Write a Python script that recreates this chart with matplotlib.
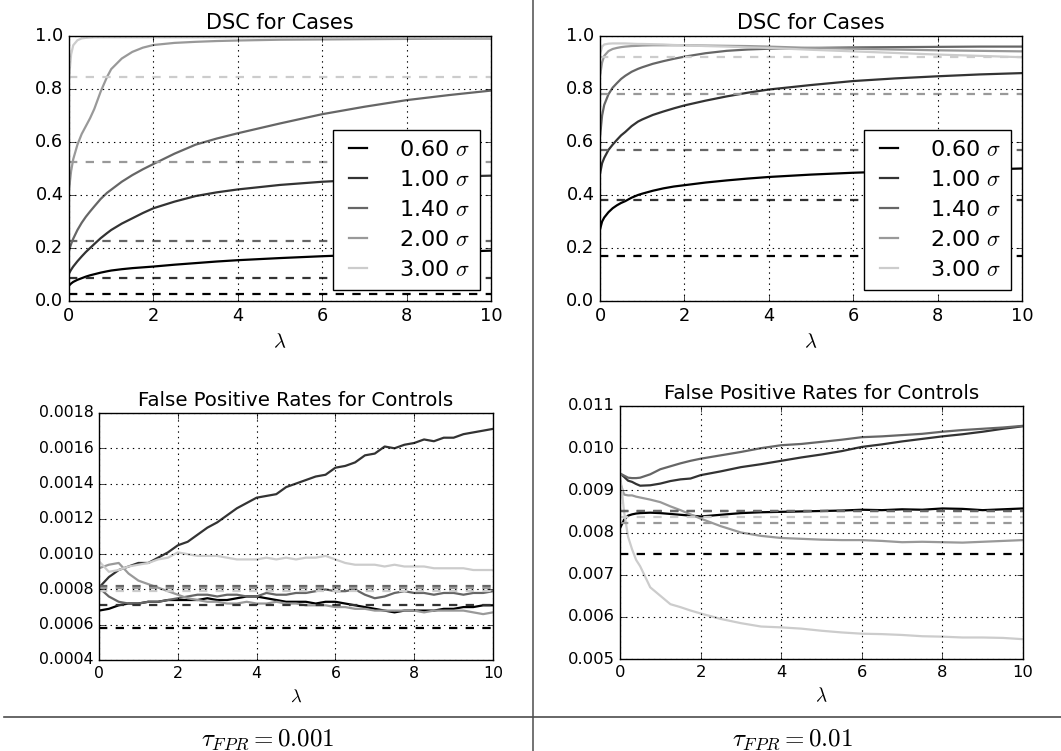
import matplotlib
matplotlib.use('Agg')
import matplotlib.pyplot as plt
from matplotlib.lines import Line2D
from matplotlib.ticker import FormatStrFormatter, MultipleLocator

plt.style.use('classic')

# --- datos ---
sigmas = [0.60, 1.00, 1.40, 2.00, 3.00]
grays = ['0.0', '0.2', '0.4', '0.6', '0.8']

lam_dsc = [0, 0.05, 0.1, 0.2, 0.3, 0.4, 0.5, 0.6, 0.75, 0.9, 1, 1.25, 1.5, 1.75, 2, 2.5, 3, 3.5, 4, 5, 6, 7, 8, 9, 10]

# tau_FPR = 0.001, DSC
dsc_001_060 = [0.058, 0.066, 0.072, 0.080, 0.086, 0.092, 0.097, 0.101, 0.107, 0.112, 0.115, 0.120, 0.124,
               0.127, 0.130, 0.137, 0.143, 0.149, 0.154, 0.162, 0.169, 0.175, 0.180, 0.185, 0.190]
dsc_001_100 = [0.104, 0.118, 0.130, 0.150, 0.168, 0.185, 0.200, 0.215, 0.237, 0.256, 0.268, 0.292, 0.312,
               0.332, 0.350, 0.375, 0.396, 0.410, 0.421, 0.438, 0.450, 0.458, 0.464, 0.469, 0.473]
dsc_001_140 = [0.190, 0.215, 0.235, 0.268, 0.295, 0.318, 0.338, 0.357, 0.385, 0.408, 0.420, 0.450, 0.475,
               0.497, 0.517, 0.556, 0.590, 0.613, 0.633, 0.670, 0.705, 0.733, 0.758, 0.777, 0.794]
dsc_001_200 = [0.420, 0.490, 0.535, 0.590, 0.630, 0.660, 0.690, 0.725, 0.790, 0.845, 0.875, 0.915, 0.940,
               0.956, 0.966, 0.974, 0.978, 0.981, 0.983, 0.986, 0.987, 0.988, 0.989, 0.990, 0.990]
dsc_001_300 = [0.840, 0.930, 0.965, 0.984, 0.991, 0.993, 0.994, 0.995, 0.995, 0.995, 0.995, 0.995, 0.995,
               0.995, 0.995, 0.995, 0.995, 0.995, 0.995, 0.995, 0.995, 0.995, 0.995, 0.995, 0.995]
dsc_001_base = [0.025, 0.088, 0.225, 0.525, 0.845]

# tau_FPR = 0.01, DSC
dsc_01_060 = [0.270, 0.300, 0.315, 0.335, 0.350, 0.361, 0.370, 0.377, 0.390, 0.400, 0.405, 0.416, 0.425,
              0.432, 0.437, 0.447, 0.455, 0.462, 0.468, 0.477, 0.484, 0.489, 0.493, 0.496, 0.500]
dsc_01_100 = [0.480, 0.520, 0.540, 0.570, 0.590, 0.608, 0.625, 0.638, 0.660, 0.677, 0.685, 0.702, 0.715,
              0.727, 0.738, 0.756, 0.772, 0.786, 0.798, 0.815, 0.830, 0.840, 0.848, 0.855, 0.860]
dsc_01_140 = [0.620, 0.700, 0.740, 0.780, 0.805, 0.822, 0.838, 0.850, 0.865, 0.876, 0.882, 0.895, 0.905,
              0.914, 0.922, 0.935, 0.944, 0.949, 0.952, 0.955, 0.957, 0.958, 0.959, 0.960, 0.960]
dsc_01_200 = [0.850, 0.900, 0.925, 0.943, 0.951, 0.955, 0.958, 0.960, 0.962, 0.963, 0.964, 0.965, 0.965,
              0.965, 0.965, 0.964, 0.963, 0.962, 0.960, 0.955, 0.952, 0.949, 0.946, 0.944, 0.942]
dsc_01_300 = [0.930, 0.960, 0.968, 0.971, 0.972, 0.972, 0.972, 0.972, 0.971, 0.970, 0.970, 0.969, 0.968,
              0.966, 0.965, 0.962, 0.960, 0.957, 0.955, 0.948, 0.942, 0.936, 0.930, 0.925, 0.920]
dsc_01_base = [0.170, 0.380, 0.570, 0.780, 0.920]

# tau_FPR = 0.001, FPR controles
lam_fpr1 = [0, 0.25, 0.5, 0.75, 1, 1.25, 1.5, 1.75, 2, 2.25, 2.5, 2.75, 3, 3.25, 3.5, 3.75, 4, 4.25, 4.5, 4.75,
            5, 5.25, 5.5, 5.75, 6, 6.25, 6.5, 6.75, 7, 7.25, 7.5, 7.75, 8, 8.25, 8.5, 8.75, 9, 9.25, 9.5, 9.75, 10]
fpr_001_060 = [0.00068, 0.00069, 0.00071, 0.00072, 0.00072, 0.00073, 0.00073, 0.00074, 0.00074, 0.00074, 0.00074,
               0.00075, 0.00074, 0.00074, 0.00075, 0.00076, 0.00076, 0.00075, 0.00074, 0.00073, 0.00073, 0.00073,
               0.00072, 0.00073, 0.00073, 0.00072, 0.00071, 0.00070, 0.00069, 0.00068, 0.00067, 0.00068, 0.00068,
               0.00068, 0.00068, 0.00069, 0.00069, 0.00070, 0.00070, 0.00071, 0.00071]
fpr_001_100 = [0.00081, 0.00087, 0.00091, 0.00093, 0.00095, 0.00095, 0.00098, 0.00101, 0.00105, 0.00107, 0.00111,
               0.00115, 0.00118, 0.00122, 0.00126, 0.00129, 0.00132, 0.00133, 0.00134, 0.00138, 0.00140, 0.00142,
               0.00144, 0.00145, 0.00149, 0.00150, 0.00152, 0.00156, 0.00157, 0.00161, 0.00160, 0.00162, 0.00163,
               0.00165, 0.00164, 0.00166, 0.00166, 0.00168, 0.00169, 0.00170, 0.00171]
fpr_001_140 = [0.00081, 0.00076, 0.00073, 0.00072, 0.00072, 0.00073, 0.00073, 0.00074, 0.00075, 0.00076, 0.00077,
               0.00077, 0.00076, 0.00077, 0.00077, 0.00076, 0.00076, 0.00078, 0.00077, 0.00077, 0.00078, 0.00078,
               0.00079, 0.00080, 0.00079, 0.00079, 0.00080, 0.00077, 0.00075, 0.00076, 0.00078, 0.00079, 0.00078,
               0.00078, 0.00077, 0.00078, 0.00078, 0.00077, 0.00078, 0.00078, 0.00079]
fpr_001_200 = [0.00092, 0.00094, 0.00095, 0.00089, 0.00085, 0.00083, 0.00081, 0.00079, 0.00077, 0.00075, 0.00074,
               0.00073, 0.00073, 0.00072, 0.00072, 0.00073, 0.00072, 0.00072, 0.00073, 0.00072, 0.00072, 0.00071,
               0.00071, 0.00071, 0.00070, 0.00070, 0.00069, 0.00069, 0.00068, 0.00068, 0.00068, 0.00068, 0.00068,
               0.00067, 0.00068, 0.00068, 0.00068, 0.00068, 0.00067, 0.00066, 0.00067]
fpr_001_300 = [0.00096, 0.00090, 0.00091, 0.00093, 0.00094, 0.00095, 0.00097, 0.00098, 0.00101, 0.00100, 0.00099,
               0.00099, 0.00099, 0.00098, 0.00097, 0.00097, 0.00097, 0.00098, 0.00097, 0.00098, 0.00097, 0.00098,
               0.00098, 0.00099, 0.00097, 0.00095, 0.00094, 0.00094, 0.00094, 0.00093, 0.00094, 0.00093, 0.00093,
               0.00093, 0.00092, 0.00092, 0.00092, 0.00092, 0.00091, 0.00091, 0.00091]
fpr_001_base = [0.00058, 0.00071, 0.00082, 0.00081, 0.00079]

# tau_FPR = 0.01, FPR controles
lam_fpr2 = [0, 0.1, 0.2, 0.3, 0.4, 0.5, 0.75, 1, 1.25, 1.5, 1.75, 2, 2.5, 3, 3.5, 4, 4.5, 5, 5.5, 6, 6.5,
            7, 7.5, 8, 8.5, 9, 9.5, 10]
fpr_01_060 = [0.00810, 0.00830, 0.00840, 0.00843, 0.00845, 0.00846, 0.00847, 0.00846, 0.00844, 0.00842, 0.00840,
              0.00838, 0.00842, 0.00846, 0.00848, 0.00849, 0.00850, 0.00851, 0.00852, 0.00854, 0.00853, 0.00855,
              0.00854, 0.00857, 0.00856, 0.00853, 0.00855, 0.00857]
fpr_01_100 = [0.00940, 0.00932, 0.00923, 0.00920, 0.00915, 0.00911, 0.00912, 0.00916, 0.00922, 0.00926, 0.00928,
              0.00936, 0.00945, 0.00955, 0.00962, 0.00970, 0.00978, 0.00985, 0.00993, 0.01003, 0.01009, 0.01016,
              0.01022, 0.01028, 0.01033, 0.01039, 0.01046, 0.01052]
fpr_01_140 = [0.00940, 0.00935, 0.00930, 0.00929, 0.00929, 0.00930, 0.00938, 0.00950, 0.00957, 0.00964, 0.00970,
              0.00975, 0.00983, 0.00991, 0.01000, 0.01007, 0.01010, 0.01015, 0.01020, 0.01026, 0.01028, 0.01031,
              0.01034, 0.01039, 0.01043, 0.01046, 0.01049, 0.01053]
fpr_01_200 = [0.00920, 0.00890, 0.00888, 0.00888, 0.00885, 0.00883, 0.00878, 0.00872, 0.00862, 0.00853, 0.00843,
              0.00833, 0.00815, 0.00800, 0.00792, 0.00787, 0.00785, 0.00783, 0.00782, 0.00782, 0.00780, 0.00777,
              0.00778, 0.00777, 0.00776, 0.00778, 0.00780, 0.00782]
fpr_01_300 = [0.00940, 0.00850, 0.00790, 0.00760, 0.00735, 0.00720, 0.00670, 0.00650, 0.00630, 0.00623, 0.00615,
              0.00608, 0.00595, 0.00585, 0.00577, 0.00575, 0.00572, 0.00567, 0.00563, 0.00560, 0.00559, 0.00557,
              0.00554, 0.00553, 0.00551, 0.00551, 0.00550, 0.00547]
fpr_01_base = [0.00749, 0.00850, 0.00850, 0.00822, 0.00836]

W, H = 1061, 751
fig = plt.figure(figsize=(W / 100, H / 100), dpi=100, facecolor='white')


def px_axes(x0, y0, x1, y1):
    # posiciones en pixeles (desde arriba a la izquierda)
    return fig.add_axes([x0 / W, (H - y1) / H, (x1 - x0) / W, (y1 - y0) / H])


def draw_panel(ax, lam, series, base, title, tick_fs, title_fs, legend=False):
    for s, g, ys in zip(sigmas, grays, series):
        ax.plot(lam, ys, color=g, lw=1.6, label='%5.2f $\\sigma$' % s)
    for g, b in zip(grays, base):
        ax.axhline(b, color=g, lw=1.6, ls='--', dashes=(6, 6))
    ax.set_xlim(0, 10)
    ax.xaxis.set_major_locator(MultipleLocator(2))
    ax.grid(True, color='k', ls=':', lw=0.8)
    ax.tick_params(labelsize=tick_fs)
    ax.set_title(title, fontsize=title_fs)
    ax.set_xlabel(r'$\lambda$', fontsize=tick_fs + 2)
    if legend:
        ax.legend(loc='lower right', fontsize=16, handlelength=1.4,
                  labelspacing=0.45, borderpad=0.45, fancybox=False)


ax1 = px_axes(69, 36, 491, 301)
draw_panel(ax1, lam_dsc, [dsc_001_060, dsc_001_100, dsc_001_140, dsc_001_200, dsc_001_300],
           dsc_001_base, 'DSC for Cases', 12.8, 15, legend=True)
ax1.set_ylim(0, 1)
ax1.yaxis.set_major_formatter(FormatStrFormatter('%.1f'))

ax2 = px_axes(600, 36, 1022, 301)
draw_panel(ax2, lam_dsc, [dsc_01_060, dsc_01_100, dsc_01_140, dsc_01_200, dsc_01_300],
           dsc_01_base, 'DSC for Cases', 12.8, 15, legend=True)
ax2.set_ylim(0, 1)
ax2.yaxis.set_major_formatter(FormatStrFormatter('%.1f'))

ax3 = px_axes(99, 413, 493, 660)
draw_panel(ax3, lam_fpr1, [fpr_001_060, fpr_001_100, fpr_001_140, fpr_001_200, fpr_001_300],
           fpr_001_base, 'False Positive Rates for Controls', 11.3, 14.2)
ax3.set_ylim(0.0004, 0.0018)
ax3.yaxis.set_major_locator(MultipleLocator(0.0002))
ax3.yaxis.set_major_formatter(FormatStrFormatter('%.4f'))

ax4 = px_axes(620, 406, 1023, 659)
draw_panel(ax4, lam_fpr2, [fpr_01_060, fpr_01_100, fpr_01_140, fpr_01_200, fpr_01_300],
           fpr_01_base, 'False Positive Rates for Controls', 11.8, 14.2)
ax4.set_ylim(0.005, 0.011)
ax4.yaxis.set_major_locator(MultipleLocator(0.001))
ax4.yaxis.set_major_formatter(FormatStrFormatter('%.3f'))

# separadores tipo tabla y etiquetas de tau
fig.add_artist(Line2D([533 / W, 533 / W], [0, 1], color='0.45', lw=1.4, transform=fig.transFigure))
fig.add_artist(Line2D([4 / W, 1], [(H - 717) / H] * 2, color='0.3', lw=1.2, transform=fig.transFigure))
fig.text(268 / W, (H - 740) / H, r'$\tau_{FPR} = 0.001$', ha='center', va='center', fontsize=18)
fig.text(793 / W, (H - 740) / H, r'$\tau_{FPR} = 0.01$', ha='center', va='center', fontsize=18)

fig.savefig('out.png', dpi=100, facecolor='white')
